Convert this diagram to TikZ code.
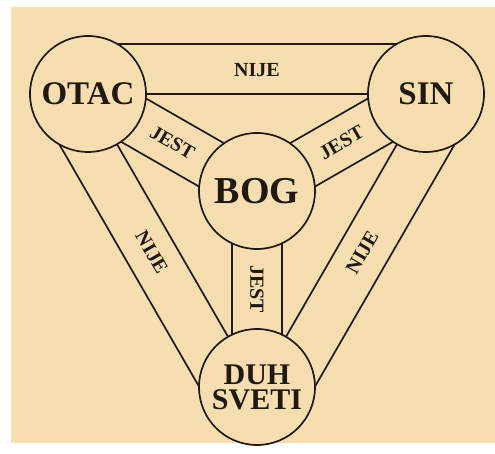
\documentclass[tikz,border=0pt]{standalone}
\usepackage{fontspec}
\setmainfont{Liberation Serif}
\usetikzlibrary{calc, backgrounds}
\definecolor{parchment}{HTML}{F6DEB1}
\definecolor{ink}{HTML}{21190F}

\begin{document}
\begin{tikzpicture}[
    x=1pt, y=1pt,
    person/.style={circle, draw=ink, line width=1.7pt, fill=parchment, minimum size=116pt, inner sep=0pt, text=ink, align=center},
    band/.style={draw=ink, line width=1.7pt},
    word/.style={text=ink, font=\fontsize{20}{20}\selectfont\bfseries, inner sep=1pt}
]
\useasboundingbox (0,0) rectangle (495,454);

% Persons
\node[person, font=\fontsize{33}{36}\selectfont\bfseries] (otac) at (88,360) {OTAC};
\node[person, font=\fontsize{33}{36}\selectfont\bfseries] (sin) at (426,360) {SIN};
\node[person, font=\fontsize{38}{40}\selectfont\bfseries] (bog) at (257,263) {BOG};
\node[person, font=\fontsize{30}{25}\selectfont\bfseries] (duh) at (257,67) {DUH\\SVETI};

\begin{pgfonlayer}{background}
\fill[parchment] (11,11) rectangle (495,447);

% Outer bands - NIJE
\foreach \a/\b in {otac/sin, sin/duh, duh/otac} {
    \draw[band] (\a.center) -- (\b.center);
    \draw[band] ($(\a)!50pt!90:(\b)$) -- ($(\b)!50pt!-90:(\a)$);
    \path ($(\a)!24pt!90:(\b)$) -- node[word, sloped] {NIJE} ($(\b)!24pt!-90:(\a)$);
}

% Inner bands - JEST
\foreach \a in {otac, sin, duh} {
    \draw[band] ($(\a)!25pt!90:(bog)$) -- ($(bog)!25pt!-90:(\a)$);
    \draw[band] ($(\a)!25pt!-90:(bog)$) -- ($(bog)!25pt!90:(\a)$);
}
\end{pgfonlayer}

\path (otac) -- node[word, sloped] {JEST} (bog);
\path (bog) -- node[word, sloped] {JEST} (sin);
\path (bog) -- node[word, rotate=-90] {JEST} (duh);

\end{tikzpicture}
\end{document}
